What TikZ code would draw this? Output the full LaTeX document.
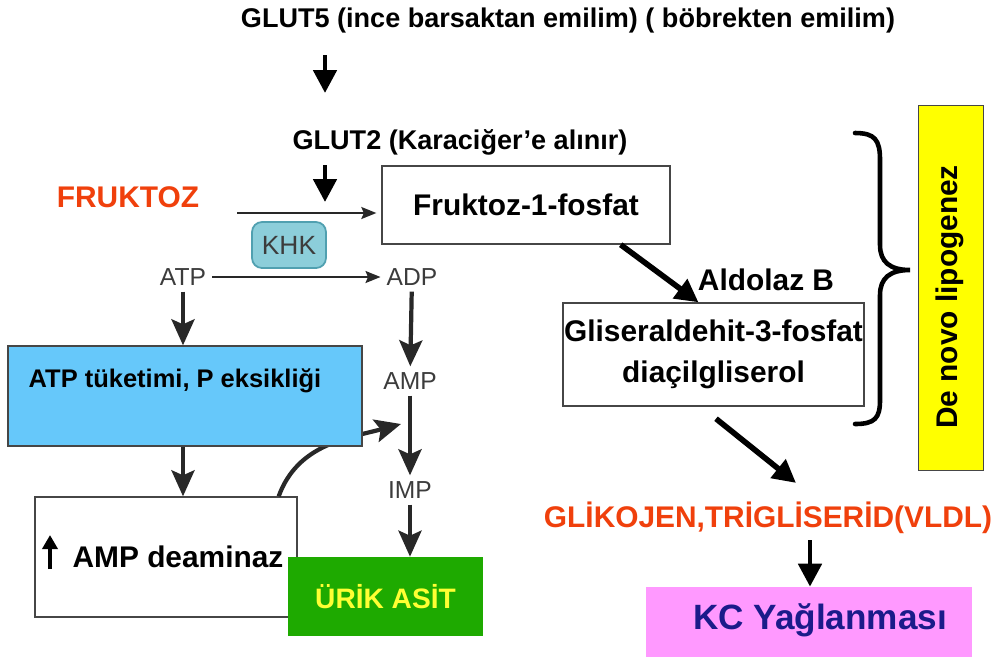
\documentclass[tikz,border=0pt]{standalone}
\usepackage[svgnames]{xcolor}
\usepackage{fontspec}
\setmainfont{Liberation Sans}
\usepackage{tikz}
\usetikzlibrary{arrows.meta}

\definecolor{fruktred}{RGB}{240,64,12}
\definecolor{darkgrey}{RGB}{60,60,60}
\definecolor{arrgrey}{RGB}{40,40,40}
\definecolor{boxgrey}{RGB}{70,70,70}
\definecolor{khkfill}{RGB}{140,206,218}
\definecolor{khkline}{RGB}{80,160,176}
\definecolor{atpblue}{RGB}{102,200,250}
\definecolor{urikgreen}{RGB}{30,170,0}
\definecolor{urikyellow}{RGB}{255,255,51}
\definecolor{kcpink}{RGB}{255,153,255}
\definecolor{kcblue}{RGB}{27,27,138}
\definecolor{lipoyellow}{RGB}{255,255,0}

\begin{document}
\begin{tikzpicture}[x=0.02cm, y=-0.02cm,
  big/.style={font=\fontsize{17}{23}\selectfont\bfseries},
  mid/.style={font=\fontsize{15.4}{18}\selectfont\bfseries},
  gry/.style={font=\fontsize{14}{16}\selectfont, text=darkgrey},
  box/.style={draw=boxgrey, line width=0.8pt},
  blkarr/.style={-{Triangle[length=0.46cm, width=0.46cm]}, line width=2.8pt},
  gryarr/.style={-{Stealth[length=0.52cm, width=0.46cm, inset=0.1cm]}, line width=2.4pt, draw=arrgrey},
  thinarr/.style={-{Stealth[length=0.3cm, width=0.24cm, inset=0.05cm]}, line width=1pt, draw=arrgrey}]
\fill[white] (0,0) rectangle (999,657);
\useasboundingbox (0,0) rectangle (999,657);
% top of the pathway
\node[mid] (glut5) at (568,20) {GLUT5 (ince barsaktan emilim) ( böbrekten emilim)};
\node[mid] (glut2) at (460,142) {GLUT2 (Karaciğer’e alınır)};
\node[big, text=fruktred] (fruk) at (128,197) {FRUKTOZ};
\node[box, big, minimum width=5.76cm, minimum height=1.56cm] (f1p) at (526,205) {Fruktoz-1-fosfat};
\node[draw=khkline, fill=khkfill, rounded corners=0.2cm, line width=1pt, minimum width=1.48cm, minimum height=0.92cm, font=\fontsize{15}{17}\selectfont, text=darkgrey] (khk) at (289,245) {KHK};
\node[gry] (atp) at (183,277) {ATP};
\node[gry] (adp) at (412,277) {ADP};
\node[gry] (amp) at (410,381) {AMP};
\node[gry] (imp) at (410,490) {IMP};
\coordinate (g5a) at (325,55);
\coordinate (g5b) at (325,93);
\coordinate (g2a) at (325,165);
\coordinate (g2b) at (325,202);
\coordinate (fstart) at (237,213);
\draw[blkarr] (g5a) -- (g5b);
\draw[blkarr] (g2a) -- (g2b);
\draw[thinarr, shorten >=0.1cm] (fstart) -- (fstart -| f1p.west);
\draw[thinarr] (atp) -- (adp);
% left side: ATP loss
\node[box, fill=white, minimum width=5.24cm, minimum height=2.4cm] (deam) at (166,557) {};
\node[big] (deamtxt) at (178,557) {AMP deaminaz};
\coordinate (upa) at (50,569);
\coordinate (upb) at (50,535);
\draw[-{Triangle[length=0.28cm, width=0.3cm]}, line width=2.6pt] (upa) -- (upb);
\node[fill=urikgreen, minimum width=3.9cm, minimum height=1.58cm, font=\fontsize{16}{18}\selectfont\bfseries, text=urikyellow] (urik) at (385.5,596.5) {ÜRİK ASİT};
\coordinate (curvend) at (401,424);
\draw[gryarr] ([xshift=-0.38cm]deam.north east) to[out=70, in=195] (curvend);
\node[box, fill=atpblue, minimum width=7.08cm, minimum height=2cm] (atpbox) at (185,396) {};
\node[font=\fontsize{14.5}{18}\selectfont\bfseries] (atptxt) at (175,381) {ATP tüketimi, P eksikliği};
\draw[gryarr] (atp) -- (atp |- atpbox.north);
\draw[gryarr] (adp) -- (amp);
\draw[gryarr] (amp) -- (imp);
\draw[gryarr] (imp) -- (imp |- urik.north);
\draw[gryarr] (atpbox.south -| atp) -- (atp |- deam.north);
% right side: lipogenesis
\node[box, big, align=center, minimum width=6.02cm, minimum height=2.06cm, inner sep=0pt] (glis) at (713.5,354.5) {Gliseraldehit-3-fosfat\\diaçilgliserol};
\node[big] (aldo) at (766,280) {Aldolaz B};
\node[big, text=fruktred] (glik) at (768,518) {GLİKOJEN,TRİGLİSERİD(VLDL)};
\node[fill=kcpink, minimum width=6.52cm, minimum height=1.4cm] (kcbox) at (809,622) {};
\node[font=\fontsize{20}{24}\selectfont\bfseries, text=kcblue] (kc) at (820,620) {KC Yağlanması};
\node[draw=boxgrey, fill=lipoyellow, minimum width=1.3cm, minimum height=7.3cm] (lipo) at (950.5,287.5) {};
\node[big, rotate=90] (lipotxt) at (950,297) {De novo lipogenez};
\draw[blkarr, line width=3.2pt] ([xshift=-1cm]f1p.south east) -- ([xshift=-0.3cm]glis.north);
\draw[blkarr, line width=3.2pt] ([xshift=0.05cm, yshift=-0.24cm]glis.south) -- ([xshift=0.56cm, yshift=0.26cm]glik.north);
\draw[blkarr] ([xshift=0.84cm]glik.south) -- ([xshift=0.84cm]glik.south |- kcbox.north);
\draw[line width=2.6pt, line cap=round] (855,133) .. controls (875,133) and (880,140) .. (880,160) -- (880,245) .. controls (880,262) and (890,270) .. (910,270) .. controls (890,270) and (880,278) .. (880,295) -- (880,400) .. controls (880,418) and (875,424) .. (855,424);
\end{tikzpicture}
\end{document}
